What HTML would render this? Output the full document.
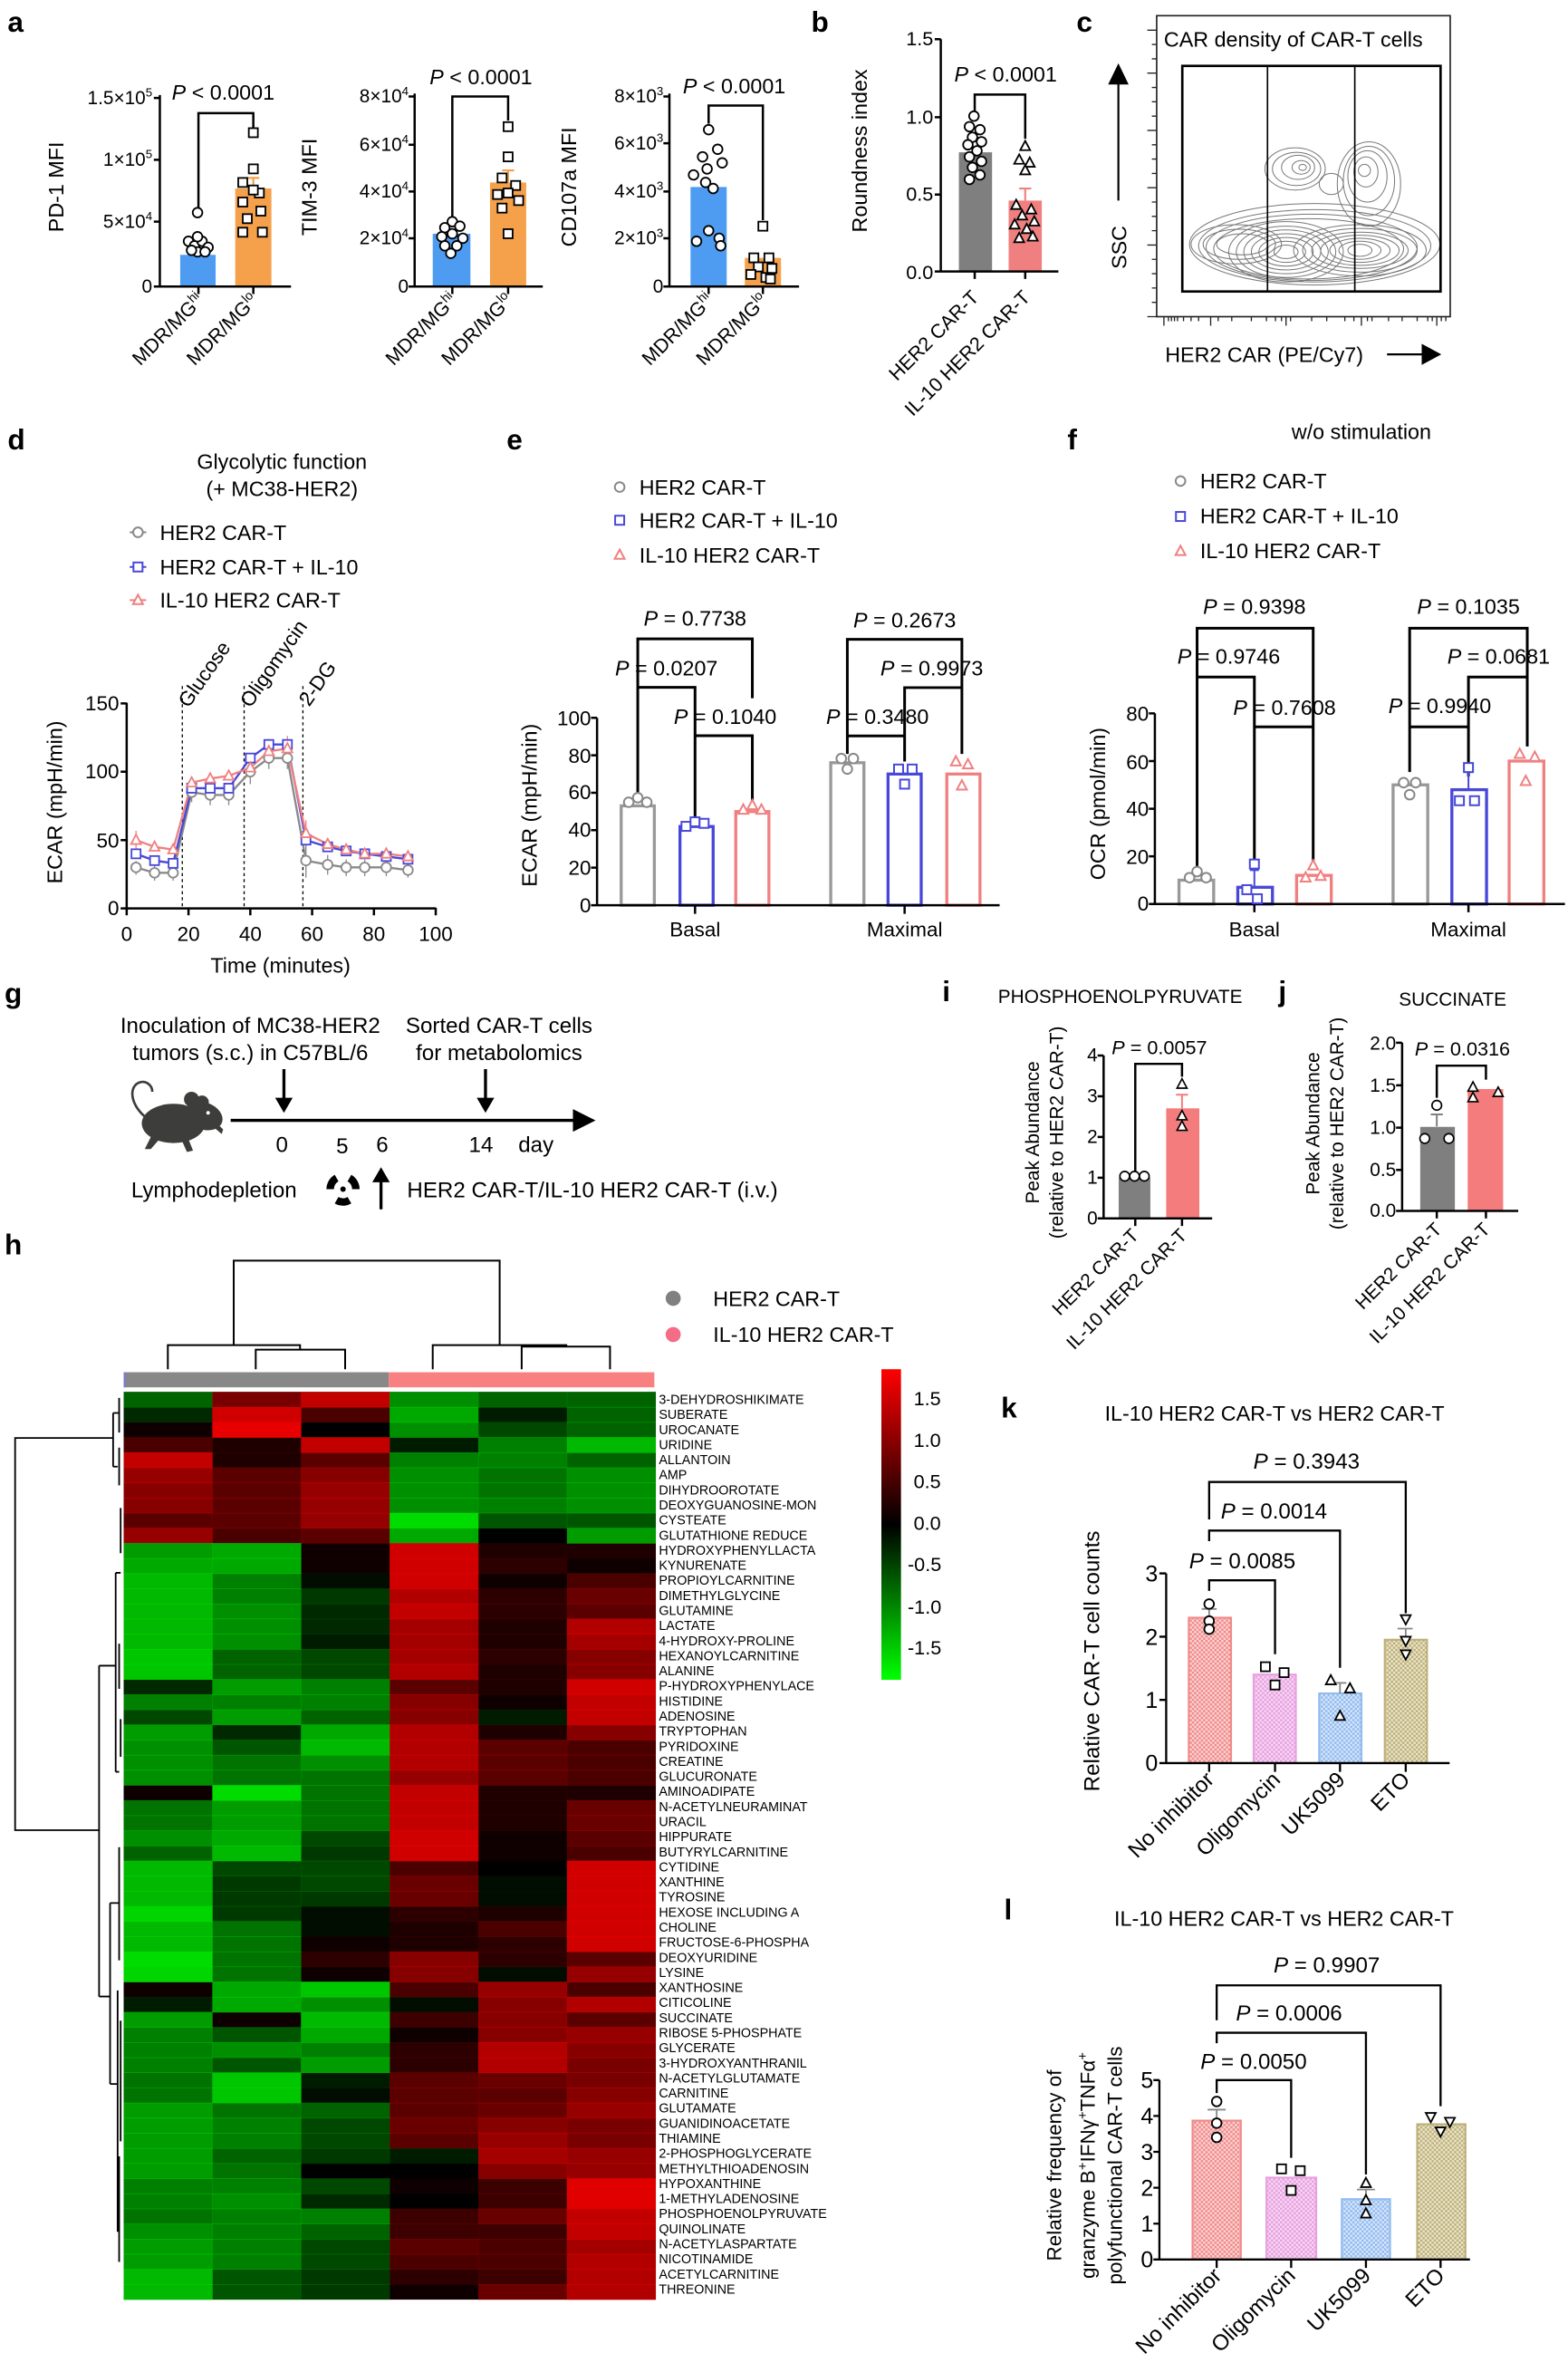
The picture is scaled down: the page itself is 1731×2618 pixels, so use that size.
<!DOCTYPE html>
<html><head><meta charset="utf-8">
<style>
html,body{margin:0;padding:0;background:#fff;}
svg{display:block;}
text{font-family:"Liberation Sans",Arial,sans-serif;fill:#000;}
.b{font-weight:bold;}
</style></head>
<body>
<svg xmlns="http://www.w3.org/2000/svg" width="1731" height="2618" viewBox="0 0 1040 1573">
<defs>
<g id="ci"><circle r="3.2"/></g>
<g id="sq"><rect x="-3" y="-3" width="6" height="6"/></g>
<g id="tu"><path d="M0,-3.6 L3.3,2.6 L-3.3,2.6Z"/></g>
<g id="td"><path d="M0,3.6 L3.3,-2.6 L-3.3,-2.6Z"/></g>
<rect id="R" width="59" height="10.4" fill="#e80000"/>
<rect id="G" width="59" height="10.4" fill="#00dc00"/>
<pattern id="pr" width="3" height="3" patternUnits="userSpaceOnUse"><rect width="3" height="3" fill="#fbd4d4"/><rect width="1.5" height="1.5" fill="#f08a8a"/><rect x="1.5" y="1.5" width="1.5" height="1.5" fill="#f08a8a"/></pattern>
<pattern id="pp" width="3" height="3" patternUnits="userSpaceOnUse"><rect width="3" height="3" fill="#f8d8f4"/><rect width="1.5" height="1.5" fill="#e7a0e0"/><rect x="1.5" y="1.5" width="1.5" height="1.5" fill="#e7a0e0"/></pattern>
<pattern id="pb" width="3" height="3" patternUnits="userSpaceOnUse"><rect width="3" height="3" fill="#d6e6fb"/><rect width="1.5" height="1.5" fill="#93bbee"/><rect x="1.5" y="1.5" width="1.5" height="1.5" fill="#93bbee"/></pattern>
<pattern id="pk" width="3" height="3" patternUnits="userSpaceOnUse"><rect width="3" height="3" fill="#ebe5cc"/><rect width="1.5" height="1.5" fill="#bdb07a"/><rect x="1.5" y="1.5" width="1.5" height="1.5" fill="#bdb07a"/></pattern>
<linearGradient id="cb" x1="0" y1="0" x2="0" y2="1"><stop offset="0" stop-color="#ff0000"/><stop offset="0.5" stop-color="#000"/><stop offset="1" stop-color="#00ff00"/></linearGradient>
</defs>

<!-- ============ panel a ============ -->
<text x="5" y="21" class="b" font-size="19">a</text>
<g font-size="12.5">
<text x="101" y="69" text-anchor="end">1.5×10<tspan font-size="8" dy="-5">5</tspan></text>
<text x="101" y="110" text-anchor="end">1×10<tspan font-size="8" dy="-5">5</tspan></text>
<text x="101" y="151" text-anchor="end">5×10<tspan font-size="8" dy="-5">4</tspan></text>
<text x="101" y="194" text-anchor="end">0</text>
<text transform="translate(42,124) rotate(-90)" text-anchor="middle" font-size="14">PD-1 MFI</text>
<text x="148" y="66" text-anchor="middle" font-size="14"><tspan font-style="italic">P</tspan> &lt; 0.0001</text>
<text x="271" y="68" text-anchor="end">8×10<tspan font-size="8" dy="-5">4</tspan></text>
<text x="271" y="100" text-anchor="end">6×10<tspan font-size="8" dy="-5">4</tspan></text>
<text x="271" y="131" text-anchor="end">4×10<tspan font-size="8" dy="-5">4</tspan></text>
<text x="271" y="162" text-anchor="end">2×10<tspan font-size="8" dy="-5">4</tspan></text>
<text x="271" y="194" text-anchor="end">0</text>
<text transform="translate(210,124) rotate(-90)" text-anchor="middle" font-size="14">TIM-3 MFI</text>
<text x="319" y="56" text-anchor="middle" font-size="14"><tspan font-style="italic">P</tspan> &lt; 0.0001</text>
<text x="440" y="68" text-anchor="end">8×10<tspan font-size="8" dy="-5">3</tspan></text>
<text x="440" y="99" text-anchor="end">6×10<tspan font-size="8" dy="-5">3</tspan></text>
<text x="440" y="131" text-anchor="end">4×10<tspan font-size="8" dy="-5">3</tspan></text>
<text x="440" y="162" text-anchor="end">2×10<tspan font-size="8" dy="-5">3</tspan></text>
<text x="440" y="194" text-anchor="end">0</text>
<text transform="translate(382,124) rotate(-90)" text-anchor="middle" font-size="14">CD107a MFI</text>
<text x="487" y="62" text-anchor="middle" font-size="14"><tspan font-style="italic">P</tspan> &lt; 0.0001</text>
</g>
<g font-size="13">
<text transform="translate(136,200) rotate(-45)" text-anchor="end">MDR/MG<tspan font-size="8.5" dy="-5">hi</tspan></text>
<text transform="translate(172,200) rotate(-45)" text-anchor="end">MDR/MG<tspan font-size="8.5" dy="-5">lo</tspan></text>
<text transform="translate(304,200) rotate(-45)" text-anchor="end">MDR/MG<tspan font-size="8.5" dy="-5">hi</tspan></text>
<text transform="translate(341,200) rotate(-45)" text-anchor="end">MDR/MG<tspan font-size="8.5" dy="-5">lo</tspan></text>
<text transform="translate(474,200) rotate(-45)" text-anchor="end">MDR/MG<tspan font-size="8.5" dy="-5">hi</tspan></text>
<text transform="translate(510,200) rotate(-45)" text-anchor="end">MDR/MG<tspan font-size="8.5" dy="-5">lo</tspan></text>
</g>
<rect x="119.5" y="169" width="23.5" height="21" fill="#4e9cf2"/>
<rect x="156" y="125" width="24" height="65" fill="#f5a04a"/>
<rect x="287" y="155" width="25" height="35" fill="#4e9cf2"/>
<rect x="325" y="121" width="24" height="69" fill="#f5a04a"/>
<rect x="458" y="124" width="24" height="66" fill="#4e9cf2"/>
<rect x="494" y="171" width="24" height="19" fill="#f5a04a"/>
<g stroke="#000" stroke-width="1.5" fill="none">
<path d="M106,63 V190 H193 M102,65 H106 M102,106 H106 M102,147 H106 M102,190 H106 M131.6,190 V195 M168,190 V195"/>
<path d="M131.6,138 V75 H168 V86"/>
<path d="M275,62 V190 H360 M271,64 H275 M271,96 H275 M271,127 H275 M271,158 H275 M271,190 H275 M300,190 V195 M337,190 V195"/>
<path d="M300,145 V64 H337 V80"/>
<path d="M444,62 V190 H530 M440,64 H444 M440,95 H444 M440,127 H444 M440,158 H444 M440,190 H444 M470,190 V195 M506,190 V195"/>
<path d="M470,82 V70 H506 V146"/>
</g>
<g stroke="#f5a04a" stroke-width="1.3"><path d="M168,125 V118 M164,118 H172 M337,121 V113 M333,113 H341"/></g>
<g fill="#fff" stroke="#000" stroke-width="1.1">
<use href="#ci" x="131" y="141"/><use href="#ci" x="125" y="160"/><use href="#ci" x="129" y="163"/><use href="#ci" x="134" y="160"/><use href="#ci" x="138" y="164"/><use href="#ci" x="131" y="167"/><use href="#ci" x="127" y="166"/><use href="#ci" x="136" y="167"/><use href="#ci" x="131" y="157"/>
<use href="#sq" x="168" y="88"/><use href="#sq" x="168" y="112"/><use href="#sq" x="161" y="121"/><use href="#sq" x="172" y="128"/><use href="#sq" x="161" y="134"/><use href="#sq" x="173" y="140"/><use href="#sq" x="164" y="145"/><use href="#sq" x="161" y="154"/><use href="#sq" x="174" y="154"/><use href="#sq" x="168" y="126"/>
<use href="#ci" x="300" y="147"/><use href="#ci" x="295" y="151"/><use href="#ci" x="305" y="150"/><use href="#ci" x="293" y="157"/><use href="#ci" x="300" y="155"/><use href="#ci" x="307" y="158"/><use href="#ci" x="295" y="163"/><use href="#ci" x="303" y="163"/><use href="#ci" x="299" y="168"/>
<use href="#sq" x="337" y="84"/><use href="#sq" x="337" y="104"/><use href="#sq" x="333" y="118"/><use href="#sq" x="342" y="123"/><use href="#sq" x="330" y="129"/><use href="#sq" x="337" y="128"/><use href="#sq" x="344" y="133"/><use href="#sq" x="333" y="138"/><use href="#sq" x="337" y="155"/>
<use href="#ci" x="470" y="86"/><use href="#ci" x="466" y="104"/><use href="#ci" x="476" y="99"/><use href="#ci" x="479" y="108"/><use href="#ci" x="469" y="112"/><use href="#ci" x="460" y="116"/><use href="#ci" x="468" y="121"/><use href="#ci" x="473" y="125"/><use href="#ci" x="462" y="160"/><use href="#ci" x="477" y="158"/><use href="#ci" x="470" y="153"/><use href="#ci" x="478" y="163"/>
<use href="#sq" x="506" y="150"/><use href="#sq" x="500" y="171"/><use href="#sq" x="510" y="171"/><use href="#sq" x="503" y="177"/><use href="#sq" x="512" y="178"/><use href="#sq" x="498" y="182"/><use href="#sq" x="508" y="184"/><use href="#sq" x="511" y="185"/>
</g>

<!-- ============ panel b ============ -->
<text x="538" y="21" class="b" font-size="19">b</text>
<g font-size="13">
<text x="619" y="30" text-anchor="end">1.5</text>
<text x="619" y="82" text-anchor="end">1.0</text>
<text x="619" y="133" text-anchor="end">0.5</text>
<text x="619" y="185" text-anchor="end">0.0</text>
<text transform="translate(575,100) rotate(-90)" text-anchor="middle" font-size="14">Roundness index</text>
<text x="667" y="54" text-anchor="middle" font-size="14"><tspan font-style="italic">P</tspan> &lt; 0.0001</text>
<text transform="translate(650,198) rotate(-45)" text-anchor="end">HER2 CAR-T</text>
<text transform="translate(684,198) rotate(-45)" text-anchor="end">IL-10 HER2 CAR-T</text>
</g>
<rect x="636" y="101" width="22" height="79" fill="#7f7f7f"/>
<rect x="669" y="133" width="22" height="47" fill="#f08080"/>
<g stroke="#000" stroke-width="1.5" fill="none">
<path d="M624,26 V180 H702 M620,26 H624 M620,77.7 H624 M620,129 H624 M620,180 H624 M646.5,180 V185 M680,180 V185"/>
<path d="M646.5,74 V62.7 H680 V92"/>
</g>
<path d="M680,133 V125 M676,125 H684" stroke="#f08080" stroke-width="1.3"/>
<g fill="#fff" stroke="#000" stroke-width="1.1">
<use href="#ci" x="646" y="77"/><use href="#ci" x="643" y="84"/><use href="#ci" x="650" y="86"/><use href="#ci" x="645" y="91"/><use href="#ci" x="651" y="94"/><use href="#ci" x="642" y="96"/><use href="#ci" x="648" y="100"/><use href="#ci" x="643" y="104"/><use href="#ci" x="651" y="107"/><use href="#ci" x="645" y="111"/><use href="#ci" x="650" y="116"/><use href="#ci" x="643" y="119"/>
<use href="#tu" x="680" y="97"/><use href="#tu" x="676" y="106"/><use href="#tu" x="683" y="108"/><use href="#tu" x="680" y="113"/><use href="#tu" x="674" y="136"/><use href="#tu" x="684" y="139"/><use href="#tu" x="678" y="143"/><use href="#tu" x="686" y="147"/><use href="#tu" x="673" y="149"/><use href="#tu" x="681" y="152"/><use href="#tu" x="676" y="158"/><use href="#tu" x="685" y="157"/>
</g>

<!-- ============ panel c ============ -->
<text x="714" y="21" class="b" font-size="19">c</text>
<rect x="767.2" y="10.4" width="194.7" height="199.6" fill="none" stroke="#222" stroke-width="1"/>
<text x="772" y="31" font-size="14">CAR density of CAR-T cells</text>
<g fill="none" stroke="#777" stroke-width="0.6">
<ellipse cx="872" cy="162" rx="83" ry="27"/><ellipse cx="872" cy="163" rx="77" ry="24"/><ellipse cx="870" cy="164" rx="70" ry="22"/><ellipse cx="868" cy="165" rx="63" ry="20"/>
<ellipse cx="820" cy="162" rx="30" ry="13"/><ellipse cx="822" cy="162" rx="24" ry="10"/><ellipse cx="824" cy="162" rx="17" ry="7"/>
<ellipse cx="853" cy="167" rx="38" ry="20"/><ellipse cx="853" cy="167" rx="33" ry="17"/><ellipse cx="853" cy="167" rx="28" ry="14.5"/><ellipse cx="853" cy="167" rx="23" ry="12"/><ellipse cx="853" cy="167" rx="18" ry="9.5"/><ellipse cx="853" cy="167" rx="13" ry="7"/><ellipse cx="853" cy="167" rx="8" ry="4.5"/>
<ellipse cx="902" cy="166" rx="44" ry="17"/><ellipse cx="902" cy="166" rx="38" ry="14.5"/><ellipse cx="902" cy="166" rx="32" ry="12"/><ellipse cx="902" cy="166" rx="26" ry="10"/><ellipse cx="902" cy="166" rx="20" ry="8"/><ellipse cx="902" cy="166" rx="14" ry="6"/><ellipse cx="902" cy="166" rx="8" ry="4"/>
<ellipse cx="859" cy="112" rx="20" ry="14"/><ellipse cx="860" cy="112" rx="16" ry="11"/><ellipse cx="861" cy="111" rx="11" ry="8"/><ellipse cx="863" cy="111" rx="6" ry="4.5"/><ellipse cx="864" cy="111" rx="2.5" ry="2"/>
<ellipse cx="908" cy="122" rx="21" ry="28"/><ellipse cx="908" cy="120" rx="17" ry="23"/><ellipse cx="907" cy="117" rx="13" ry="17"/><ellipse cx="906" cy="114" rx="8" ry="10"/><ellipse cx="905" cy="113" rx="4" ry="4"/>
<ellipse cx="883" cy="122" rx="8" ry="7"/>
</g>
<rect x="784.2" y="43.7" width="171.3" height="149.6" fill="none" stroke="#000" stroke-width="1.6"/>
<path d="M840.7,43.7 V193.3 M898.6,43.7 V193.3" stroke="#000" stroke-width="1"/>
<g stroke="#222" stroke-width="0.8">
<path d="M761,210H767 M764,200.5H767 M764,191H767 M764,181.5H767 M764,172H767 M761,162.5H767 M764,153H767 M764,143.5H767 M764,134H767 M761,124.5H767 M764,115H767 M764,105.5H767 M764,96H767 M761,86.5H767 M764,77H767 M764,67.5H767 M764,58H767 M761,48.5H767 M764,39H767 M764,29.5H767 M761,20H767"/>
<path d="M772,210V216 M775,210V213 M777,210V213 M779,210V213 M781,210V213 M785,210V213 M790,210V213 M795,210V213 M803,210V216 M808,210V213 M817,210V213 M830,210V213 M840,210V213 M846,210V213 M850,210V213 M853,210V216 M856,210V213 M870,210V213 M880,210V213 M892,210V213 M898,210V213 M903,210V216 M907,210V213 M910,210V213 M921,210V213 M930,210V213 M940,210V213 M947,210V213 M950,210V213 M953,210V216 M956,210V213 M959,210V213"/>
</g>
<path d="M741.8,133 V54" stroke="#000" stroke-width="1.3"/>
<path d="M735,56 L741.8,42 L748.6,56Z" fill="#000"/>
<text transform="translate(747,164) rotate(-90)" text-anchor="middle" font-size="14">SSC</text>
<text x="772.8" y="240" font-size="14">HER2 CAR (PE/Cy7)</text>
<path d="M920,235 H945" stroke="#000" stroke-width="1.3"/>
<path d="M943,228 L956,235 L943,242Z" fill="#000"/>

<!-- ============ panel d ============ -->
<text x="5" y="298" class="b" font-size="19">d</text>
<text x="187" y="311" text-anchor="middle" font-size="14">Glycolytic function</text>
<text x="187" y="329" text-anchor="middle" font-size="14">(+ MC38-HER2)</text>
<g font-size="14">
<text x="106" y="358">HER2 CAR-T</text>
<text x="106" y="381">HER2 CAR-T + IL-10</text>
<text x="106" y="403">IL-10 HER2 CAR-T</text>
</g>
<g fill="#fff" stroke-width="1.2">
<path d="M86,353 H97" stroke="#888"/><use href="#ci" x="91.5" y="353" stroke="#888"/>
<path d="M86,376 H97" stroke="#4848d8"/><use href="#sq" x="91.5" y="376" stroke="#4848d8"/>
<path d="M86,398 H97" stroke="#f08080"/><use href="#tu" x="91.5" y="398" stroke="#f08080"/>
</g>
<g font-size="13.5">
<text x="79" y="471" text-anchor="end">150</text>
<text x="79" y="516" text-anchor="end">100</text>
<text x="79" y="562" text-anchor="end">50</text>
<text x="79" y="607" text-anchor="end">0</text>
<text x="84" y="624" text-anchor="middle">0</text>
<text x="125" y="624" text-anchor="middle">20</text>
<text x="166" y="624" text-anchor="middle">40</text>
<text x="207" y="624" text-anchor="middle">60</text>
<text x="248" y="624" text-anchor="middle">80</text>
<text x="289" y="624" text-anchor="middle">100</text>
<text x="186" y="645" text-anchor="middle" font-size="14">Time (minutes)</text>
<text transform="translate(41,532) rotate(-90)" text-anchor="middle" font-size="14">ECAR (mpH/min)</text>
<text transform="translate(125,470) rotate(-55)" font-size="13.5">Glucose</text>
<text transform="translate(166,470) rotate(-55)" font-size="13.5">Oligomycin</text>
<text transform="translate(205,469) rotate(-55)" font-size="13.5">2-DG</text>
</g>
<g stroke="#000" stroke-width="0.8" stroke-dasharray="2,2"><path d="M120.9,455 V602 M161.9,455 V602 M200.9,455 V602"/></g>
<g stroke="#000" stroke-width="1.5" fill="none">
<path d="M84,466 V602.4 H289 M80,466.5 H84 M80,511.8 H84 M80,557.1 H84 M80,602.4 H84 M84,602 V607 M125,602 V607 M166,602 V607 M207,602 V607 M248,602 V607 M289,602 V607"/>
</g>
<g fill="none" stroke-width="1.4">
<path stroke="#8a8a8a" d="M90.2,575.2 L102.5,578.8 L114.8,578.8 L127.1,525.4 L139.4,527.2 L151.7,527.2 L166,511.8 L178.3,502.7 L190.6,502.7 L202.9,570.7 L217.3,573.4 L229.6,575.2 L241.9,575.2 L256.2,575.2 L270.6,577"/>
<path stroke="#4848d8" d="M90.2,566.2 L102.5,570.7 L114.8,572.5 L127.1,522.7 L139.4,522.7 L151.7,522.7 L166,502.7 L178.3,493.7 L190.6,493.7 L202.9,557.1 L217.3,561.6 L229.6,564.3 L241.9,566.2 L256.2,568 L270.6,569.8"/>
<path stroke="#f08080" d="M90.2,557.1 L102.5,561.6 L114.8,563.4 L127.1,519 L139.4,516.3 L151.7,514.5 L166,509.1 L178.3,498.2 L190.6,496.4 L202.9,552.6 L217.3,559.8 L229.6,563.4 L241.9,566.2 L256.2,566.2 L270.6,568"/>
<path stroke="#8a8a8a" stroke-width="0.8" d="M90.2,571V580 M102.5,574V584 M114.8,574V584 M127.1,519V532 M139.4,520V534 M151.7,520V534 M166,504V520 M178.3,496V510 M190.6,496V510 M202.9,560V582 M217.3,567V580 M229.6,570V581 M241.9,570V581 M256.2,570V581 M270.6,572V582"/>
<path stroke="#f08080" stroke-width="0.8" d="M90.2,551V563 M178.3,490V505 M190.6,488V504 M202.9,544V561"/>
</g>
<g fill="#fff" stroke-width="1.1">
<g stroke="#8a8a8a"><use href="#ci" x="90.2" y="575.2"/><use href="#ci" x="102.5" y="578.8"/><use href="#ci" x="114.8" y="578.8"/><use href="#ci" x="127.1" y="525.4"/><use href="#ci" x="139.4" y="527.2"/><use href="#ci" x="151.7" y="527.2"/><use href="#ci" x="166" y="511.8"/><use href="#ci" x="178.3" y="502.7"/><use href="#ci" x="190.6" y="502.7"/><use href="#ci" x="202.9" y="570.7"/><use href="#ci" x="217.3" y="573.4"/><use href="#ci" x="229.6" y="575.2"/><use href="#ci" x="241.9" y="575.2"/><use href="#ci" x="256.2" y="575.2"/><use href="#ci" x="270.6" y="577"/></g>
<g stroke="#4848d8"><use href="#sq" x="90.2" y="566.2"/><use href="#sq" x="102.5" y="570.7"/><use href="#sq" x="114.8" y="572.5"/><use href="#sq" x="127.1" y="522.7"/><use href="#sq" x="139.4" y="522.7"/><use href="#sq" x="151.7" y="522.7"/><use href="#sq" x="166" y="502.7"/><use href="#sq" x="178.3" y="493.7"/><use href="#sq" x="190.6" y="493.7"/><use href="#sq" x="202.9" y="557.1"/><use href="#sq" x="217.3" y="561.6"/><use href="#sq" x="229.6" y="564.3"/><use href="#sq" x="241.9" y="566.2"/><use href="#sq" x="256.2" y="568"/><use href="#sq" x="270.6" y="569.8"/></g>
<g stroke="#f08080"><use href="#tu" x="90.2" y="557.1"/><use href="#tu" x="102.5" y="561.6"/><use href="#tu" x="114.8" y="563.4"/><use href="#tu" x="127.1" y="519"/><use href="#tu" x="139.4" y="516.3"/><use href="#tu" x="151.7" y="514.5"/><use href="#tu" x="166" y="509.1"/><use href="#tu" x="178.3" y="498.2"/><use href="#tu" x="190.6" y="496.4"/><use href="#tu" x="202.9" y="552.6"/><use href="#tu" x="217.3" y="559.8"/><use href="#tu" x="229.6" y="563.4"/><use href="#tu" x="241.9" y="566.2"/><use href="#tu" x="256.2" y="566.2"/><use href="#tu" x="270.6" y="568"/></g>
</g>

<!-- ============ panel e ============ -->
<text x="336" y="298" class="b" font-size="19">e</text>
<g font-size="14">
<text x="424" y="328">HER2 CAR-T</text>
<text x="424" y="350">HER2 CAR-T + IL-10</text>
<text x="424" y="373">IL-10 HER2 CAR-T</text>
</g>
<g fill="#fff" stroke-width="1.2">
<use href="#ci" x="411" y="323" stroke="#888"/><use href="#sq" x="411" y="345" stroke="#4848d8"/><use href="#tu" x="411" y="368" stroke="#f08080"/>
</g>
<g font-size="13.5">
<text x="392" y="481" text-anchor="end">100</text>
<text x="392" y="506" text-anchor="end">80</text>
<text x="392" y="530" text-anchor="end">60</text>
<text x="392" y="555" text-anchor="end">40</text>
<text x="392" y="580" text-anchor="end">20</text>
<text x="392" y="605" text-anchor="end">0</text>
<text x="461" y="621" text-anchor="middle">Basal</text>
<text x="600" y="621" text-anchor="middle">Maximal</text>
<text transform="translate(356,534) rotate(-90)" text-anchor="middle" font-size="14">ECAR (mpH/min)</text>
</g>
<g font-size="14" text-anchor="middle">
<text x="461" y="415"><tspan font-style="italic">P</tspan> = 0.7738</text>
<text x="442" y="448"><tspan font-style="italic">P</tspan> = 0.0207</text>
<text x="481" y="480"><tspan font-style="italic">P</tspan> = 0.1040</text>
<text x="600" y="416"><tspan font-style="italic">P</tspan> = 0.2673</text>
<text x="618" y="448"><tspan font-style="italic">P</tspan> = 0.9973</text>
<text x="582" y="480"><tspan font-style="italic">P</tspan> = 0.3480</text>
</g>
<g fill="none" stroke-width="2">
<rect x="412" y="534.4" width="22" height="65.9" stroke="#999"/>
<rect x="451" y="548.1" width="22" height="52.2" stroke="#4848d8"/>
<rect x="488" y="538.2" width="22" height="62.1" stroke="#f08080"/>
<rect x="551" y="505.8" width="22" height="94.5" stroke="#999"/>
<rect x="589" y="513.3" width="22" height="87" stroke="#4848d8"/>
<rect x="628" y="513.3" width="22" height="87" stroke="#f08080"/>
</g>
<g stroke="#000" stroke-width="1.5" fill="none">
<path d="M396,476 V600.3 H663 M392,476 H396 M392,500.9 H396 M392,525.7 H396 M392,550.5 H396 M392,575.4 H396 M392,600.3 H396 M461,600 V606 M600,600 V606"/>
</g>
<g stroke="#000" stroke-width="1.8" fill="none">
<path d="M423,528 V423.7 H499 V463 M423,455.8 H461 V542 M461,487.9 H499 V533"/>
<path d="M562,500 V424 H638 V500 M600,505 V456 H638 M562,488 H600"/>
</g>
<g fill="#fff" stroke-width="1.2">
<use href="#ci" x="417" y="532" stroke="#888"/><use href="#ci" x="423" y="529" stroke="#888"/><use href="#ci" x="429" y="532" stroke="#888"/>
<use href="#sq" x="455" y="548" stroke="#4848d8"/><use href="#sq" x="461" y="545" stroke="#4848d8"/><use href="#sq" x="467" y="546" stroke="#4848d8"/>
<use href="#tu" x="493" y="537" stroke="#f08080"/><use href="#tu" x="499" y="534" stroke="#f08080"/><use href="#tu" x="505" y="537" stroke="#f08080"/>
<use href="#ci" x="558" y="503" stroke="#888"/><use href="#ci" x="566" y="503" stroke="#888"/><use href="#ci" x="562" y="510" stroke="#888"/>
<use href="#sq" x="596" y="510" stroke="#4848d8"/><use href="#sq" x="605" y="510" stroke="#4848d8"/><use href="#sq" x="600" y="520" stroke="#4848d8"/>
<use href="#tu" x="634" y="505" stroke="#f08080"/><use href="#tu" x="642" y="507" stroke="#f08080"/><use href="#tu" x="638" y="521" stroke="#f08080"/>
</g>

<!-- ============ panel f ============ -->
<text x="708" y="298" class="b" font-size="19">f</text>
<text x="903" y="291" text-anchor="middle" font-size="14">w/o stimulation</text>
<g font-size="14">
<text x="796" y="324">HER2 CAR-T</text>
<text x="796" y="347">HER2 CAR-T + IL-10</text>
<text x="796" y="370">IL-10 HER2 CAR-T</text>
</g>
<g fill="#fff" stroke-width="1.2">
<use href="#ci" x="783" y="319" stroke="#888"/><use href="#sq" x="783" y="342.5" stroke="#4848d8"/><use href="#tu" x="783" y="365.5" stroke="#f08080"/>
</g>
<g font-size="13.5">
<text x="762" y="478" text-anchor="end">80</text>
<text x="762" y="510" text-anchor="end">60</text>
<text x="762" y="541" text-anchor="end">40</text>
<text x="762" y="573" text-anchor="end">20</text>
<text x="762" y="604" text-anchor="end">0</text>
<text x="832" y="621" text-anchor="middle">Basal</text>
<text x="974" y="621" text-anchor="middle">Maximal</text>
<text transform="translate(733,533) rotate(-90)" text-anchor="middle" font-size="14">OCR (pmol/min)</text>
</g>
<g font-size="14" text-anchor="middle">
<text x="832" y="407"><tspan font-style="italic">P</tspan> = 0.9398</text>
<text x="815" y="440"><tspan font-style="italic">P</tspan> = 0.9746</text>
<text x="852" y="474"><tspan font-style="italic">P</tspan> = 0.7608</text>
<text x="974" y="407"><tspan font-style="italic">P</tspan> = 0.1035</text>
<text x="994" y="440"><tspan font-style="italic">P</tspan> = 0.0681</text>
<text x="955" y="473"><tspan font-style="italic">P</tspan> = 0.9940</text>
</g>
<g fill="none" stroke-width="2">
<rect x="782" y="583.7" width="23" height="15.8" stroke="#999"/>
<rect x="821" y="588.4" width="23" height="11.1" stroke="#4848d8"/>
<rect x="860" y="580.5" width="23" height="19" stroke="#f08080"/>
<rect x="924" y="520.5" width="23" height="79" stroke="#999"/>
<rect x="963" y="523.7" width="23" height="75.8" stroke="#4848d8"/>
<rect x="1001" y="504.7" width="23" height="94.8" stroke="#f08080"/>
</g>
<g stroke="#000" stroke-width="1.5" fill="none">
<path d="M766,473 V599.5 H1038 M762,473.1 H766 M762,504.7 H766 M762,536.3 H766 M762,567.9 H766 M762,599.5 H766 M832,599 V605 M974,599 V605"/>
</g>
<g stroke="#000" stroke-width="1.8" fill="none">
<path d="M794,575 V416.6 H871 V572 M794,449 H832 V571 M832,482 H871"/>
<path d="M935,512 V416.6 H1013 V495 M974,515 V449 H1013 M935,482 H974"/>
</g>
<g stroke-width="1.2" fill="none">
<path d="M832,588 V577 M829,577 H835 M974,524 V512 M971,512 H977" stroke="#4848d8"/>
</g>
<g fill="#fff" stroke-width="1.2">
<use href="#ci" x="789" y="582" stroke="#888"/><use href="#ci" x="794" y="578" stroke="#888"/><use href="#ci" x="800" y="582" stroke="#888"/>
<use href="#sq" x="832" y="573" stroke="#4848d8"/><use href="#sq" x="827" y="590" stroke="#4848d8"/><use href="#sq" x="834" y="596" stroke="#4848d8"/>
<use href="#tu" x="871" y="574" stroke="#f08080"/><use href="#tu" x="866" y="582" stroke="#f08080"/><use href="#tu" x="876" y="581" stroke="#f08080"/>
<use href="#ci" x="931" y="519" stroke="#888"/><use href="#ci" x="939" y="519" stroke="#888"/><use href="#ci" x="935" y="527" stroke="#888"/>
<use href="#sq" x="974" y="509" stroke="#4848d8"/><use href="#sq" x="968" y="531" stroke="#4848d8"/><use href="#sq" x="978" y="531" stroke="#4848d8"/>
<use href="#tu" x="1008" y="500" stroke="#f08080"/><use href="#tu" x="1018" y="502" stroke="#f08080"/><use href="#tu" x="1012" y="518" stroke="#f08080"/>
</g>

<!-- ============ panel g ============ -->
<text x="3" y="665" class="b" font-size="19">g</text>
<g font-size="14.5" text-anchor="middle">
<text x="166" y="685">Inoculation of MC38-HER2</text>
<text x="166" y="703">tumors (s.c.) in C57BL/6</text>
<text x="331" y="685">Sorted CAR-T cells</text>
<text x="331" y="703">for metabolomics</text>
<text x="187" y="764">0</text><text x="227" y="765">5</text><text x="253.5" y="764">6</text><text x="319" y="764">14</text><text x="355.5" y="764">day</text>
</g>
<text x="87" y="794" font-size="14.5">Lymphodepletion</text>
<text x="270" y="794" font-size="14.5">HER2 CAR-T/IL-10 HER2 CAR-T (i.v.)</text>
<g stroke="#000" stroke-width="2" fill="none"><path d="M188.3,709 V730 M322,709 V730 M153,743 H382 M252.7,802 V782"/></g>
<g fill="#000"><path d="M182.5,728 L188.3,738 L194.1,728Z M316.2,728 L322,738 L327.8,728Z M380,735.5 L395,743 L380,750.5Z M246.9,784 L252.7,774 L258.5,784Z"/></g>
<g transform="translate(227.5,788.6)" fill="#000">
<circle r="1.8"/>
<path d="M-3,-5.2 A6,6 0 0 0 -6,0 L-11,0 A11,11 0 0 1 -5.5,-9.5Z"/>
<path d="M3,-5.2 A6,6 0 0 1 6,0 L11,0 A11,11 0 0 0 5.5,-9.5Z"/>
<path d="M-3,5.2 A6,6 0 0 0 3,5.2 L5.5,9.5 A11,11 0 0 1 -5.5,9.5Z"/>
</g>
<g fill="#3d3d3b">
<ellipse cx="115" cy="745" rx="21" ry="13"/>
<ellipse cx="135" cy="740" rx="13" ry="9" transform="rotate(20 135 740)"/>
<circle cx="127" cy="729" r="5"/><circle cx="134" cy="731" r="4.5"/>
<path d="M101,752 L96,762 L100,762 L107,754Z M120,755 L124,764 L128,763 L124,753Z M140,746 L147,752 L148,749 L142,743Z"/>
</g>
<path d="M98,742 C88,735 84,722 92,718 C97,716 101,720 101,724" fill="none" stroke="#3d3d3b" stroke-width="1.6"/>
<circle cx="138" cy="738" r="1.2" fill="#fff"/>

<!-- ============ panel h ============ -->
<text x="3" y="832" class="b" font-size="19">h</text>
<g stroke="#000" stroke-width="1.2" fill="none">
<path d="M155,892 V836 H331.4 V892"/>
<path d="M111.3,908 V892 H199 V895"/>
<path d="M169.6,908 V895 H228.9 V908"/>
<path d="M287,908 V892 H375.6 V893"/>
<path d="M346,908 V893 H404.6 V908"/>
</g>
<rect x="82" y="910" width="175.8" height="10" fill="#888"/>
<rect x="257.8" y="910" width="176.2" height="10" fill="#f88080"/>
<rect x="82" y="910" width="1.2" height="10" fill="#7777dd"/>
<circle cx="446.5" cy="861" r="5" fill="#808080"/>
<circle cx="446.5" cy="885" r="5" fill="#f26d85"/>
<text x="473" y="866" font-size="14">HER2 CAR-T</text>
<text x="473" y="890" font-size="14">IL-10 HER2 CAR-T</text>

<rect x="82" y="923" width="353" height="602" fill="#000"/>
<g>
<g transform="translate(0,923)"><use href="#G" x="82" opacity=".45"/><use href="#R" x="140.8" opacity=".52"/><use href="#R" x="199.6" opacity=".84"/><use href="#G" x="258.4" opacity=".65"/><use href="#G" x="317.2" opacity=".45"/><use href="#G" x="376" opacity=".45"/></g>
<g transform="translate(0,933.03)"><use href="#G" x="82" opacity=".19"/><use href="#R" x="140.8" opacity=".9"/><use href="#R" x="199.6" opacity=".32"/><use href="#G" x="258.4" opacity=".77"/><use href="#G" x="317.2" opacity=".13"/><use href="#G" x="376" opacity=".45"/></g>
<g transform="translate(0,943.06)"><use href="#R" x="82" opacity=".06"/><use href="#R" x="140.8" opacity="1"/><use href="#G" x="258.4" opacity=".65"/><use href="#G" x="317.2" opacity=".32"/><use href="#G" x="376" opacity=".45"/></g>
<g transform="translate(0,953.09)"><use href="#R" x="82" opacity=".32"/><use href="#R" x="140.8" opacity=".13"/><use href="#R" x="199.6" opacity=".84"/><use href="#G" x="258.4" opacity=".13"/><use href="#G" x="317.2" opacity=".58"/><use href="#G" x="376" opacity=".84"/></g>
<g transform="translate(0,963.12)"><use href="#R" x="82" opacity=".84"/><use href="#R" x="140.8" opacity=".13"/><use href="#R" x="199.6" opacity=".39"/><use href="#G" x="258.4" opacity=".58"/><use href="#G" x="317.2" opacity=".58"/><use href="#G" x="376" opacity=".45"/></g>
<g transform="translate(0,973.15)"><use href="#R" x="82" opacity=".65"/><use href="#R" x="140.8" opacity=".39"/><use href="#R" x="199.6" opacity=".58"/><use href="#G" x="258.4" opacity=".65"/><use href="#G" x="317.2" opacity=".52"/><use href="#G" x="376" opacity=".65"/></g>
<g transform="translate(0,983.18)"><use href="#R" x="82" opacity=".58"/><use href="#R" x="140.8" opacity=".39"/><use href="#R" x="199.6" opacity=".65"/><use href="#G" x="258.4" opacity=".65"/><use href="#G" x="317.2" opacity=".52"/><use href="#G" x="376" opacity=".65"/></g>
<g transform="translate(0,993.21)"><use href="#R" x="82" opacity=".58"/><use href="#R" x="140.8" opacity=".39"/><use href="#R" x="199.6" opacity=".65"/><use href="#G" x="258.4" opacity=".65"/><use href="#G" x="317.2" opacity=".58"/><use href="#G" x="376" opacity=".65"/></g>
<g transform="translate(0,1003.24)"><use href="#R" x="82" opacity=".39"/><use href="#R" x="140.8" opacity=".39"/><use href="#R" x="199.6" opacity=".65"/><use href="#G" x="258.4" opacity="1"/><use href="#G" x="317.2" opacity=".39"/><use href="#G" x="376" opacity=".39"/></g>
<g transform="translate(0,1013.27)"><use href="#R" x="82" opacity=".65"/><use href="#R" x="140.8" opacity=".32"/><use href="#R" x="199.6" opacity=".39"/><use href="#G" x="258.4" opacity=".77"/><use href="#G" x="376" opacity=".71"/></g>
<g transform="translate(0,1023.3)"><use href="#G" x="82" opacity=".71"/><use href="#G" x="140.8" opacity=".77"/><use href="#R" x="199.6" opacity=".06"/><use href="#R" x="258.4" opacity=".9"/><use href="#R" x="317.2" opacity=".13"/><use href="#R" x="376" opacity=".13"/></g>
<g transform="translate(0,1033.33)"><use href="#G" x="82" opacity=".77"/><use href="#G" x="140.8" opacity=".77"/><use href="#R" x="199.6" opacity=".06"/><use href="#R" x="258.4" opacity=".9"/><use href="#R" x="317.2" opacity=".19"/><use href="#R" x="376" opacity=".06"/></g>
<g transform="translate(0,1043.36)"><use href="#G" x="82" opacity=".84"/><use href="#G" x="140.8" opacity=".58"/><use href="#G" x="199.6" opacity=".06"/><use href="#R" x="258.4" opacity=".9"/><use href="#R" x="317.2" opacity=".06"/><use href="#R" x="376" opacity=".32"/></g>
<g transform="translate(0,1053.39)"><use href="#G" x="82" opacity=".84"/><use href="#G" x="140.8" opacity=".58"/><use href="#G" x="199.6" opacity=".26"/><use href="#R" x="258.4" opacity=".77"/><use href="#R" x="317.2" opacity=".19"/><use href="#R" x="376" opacity=".45"/></g>
<g transform="translate(0,1063.42)"><use href="#G" x="82" opacity=".84"/><use href="#G" x="140.8" opacity=".65"/><use href="#G" x="199.6" opacity=".19"/><use href="#R" x="258.4" opacity=".84"/><use href="#R" x="317.2" opacity=".19"/><use href="#R" x="376" opacity=".39"/></g>
<g transform="translate(0,1073.45)"><use href="#G" x="82" opacity=".84"/><use href="#G" x="140.8" opacity=".65"/><use href="#G" x="199.6" opacity=".19"/><use href="#R" x="258.4" opacity=".71"/><use href="#R" x="317.2" opacity=".13"/><use href="#R" x="376" opacity=".77"/></g>
<g transform="translate(0,1083.48)"><use href="#G" x="82" opacity=".84"/><use href="#G" x="140.8" opacity=".65"/><use href="#G" x="199.6" opacity=".13"/><use href="#R" x="258.4" opacity=".71"/><use href="#R" x="317.2" opacity=".13"/><use href="#R" x="376" opacity=".71"/></g>
<g transform="translate(0,1093.51)"><use href="#G" x="82" opacity=".9"/><use href="#G" x="140.8" opacity=".45"/><use href="#G" x="199.6" opacity=".32"/><use href="#R" x="258.4" opacity=".71"/><use href="#R" x="317.2" opacity=".19"/><use href="#R" x="376" opacity=".58"/></g>
<g transform="translate(0,1103.54)"><use href="#G" x="82" opacity=".9"/><use href="#G" x="140.8" opacity=".45"/><use href="#G" x="199.6" opacity=".32"/><use href="#R" x="258.4" opacity=".77"/><use href="#R" x="317.2" opacity=".13"/><use href="#R" x="376" opacity=".58"/></g>
<g transform="translate(0,1113.57)"><use href="#G" x="82" opacity=".19"/><use href="#G" x="140.8" opacity=".71"/><use href="#G" x="199.6" opacity=".58"/><use href="#R" x="258.4" opacity=".39"/><use href="#R" x="317.2" opacity=".13"/><use href="#R" x="376" opacity=".9"/></g>
<g transform="translate(0,1123.6)"><use href="#G" x="82" opacity=".58"/><use href="#G" x="140.8" opacity=".58"/><use href="#G" x="199.6" opacity=".58"/><use href="#R" x="258.4" opacity=".58"/><use href="#R" x="317.2" opacity=".06"/><use href="#R" x="376" opacity=".84"/></g>
<g transform="translate(0,1133.63)"><use href="#G" x="82" opacity=".32"/><use href="#G" x="140.8" opacity=".71"/><use href="#G" x="199.6" opacity=".45"/><use href="#R" x="258.4" opacity=".58"/><use href="#G" x="317.2" opacity=".13"/><use href="#R" x="376" opacity=".84"/></g>
<g transform="translate(0,1143.66)"><use href="#G" x="82" opacity=".71"/><use href="#G" x="140.8" opacity=".19"/><use href="#G" x="199.6" opacity=".77"/><use href="#R" x="258.4" opacity=".77"/><use href="#R" x="317.2" opacity=".13"/><use href="#R" x="376" opacity=".58"/></g>
<g transform="translate(0,1153.69)"><use href="#G" x="82" opacity=".65"/><use href="#G" x="140.8" opacity=".39"/><use href="#G" x="199.6" opacity=".84"/><use href="#R" x="258.4" opacity=".77"/><use href="#R" x="317.2" opacity=".39"/><use href="#R" x="376" opacity=".32"/></g>
<g transform="translate(0,1163.72)"><use href="#G" x="82" opacity=".65"/><use href="#G" x="140.8" opacity=".52"/><use href="#G" x="199.6" opacity=".65"/><use href="#R" x="258.4" opacity=".77"/><use href="#R" x="317.2" opacity=".39"/><use href="#R" x="376" opacity=".32"/></g>
<g transform="translate(0,1173.75)"><use href="#G" x="82" opacity=".65"/><use href="#G" x="140.8" opacity=".52"/><use href="#G" x="199.6" opacity=".52"/><use href="#R" x="258.4" opacity=".65"/><use href="#R" x="317.2" opacity=".39"/><use href="#R" x="376" opacity=".32"/></g>
<g transform="translate(0,1183.78)"><use href="#R" x="82" opacity=".06"/><use href="#G" x="140.8" opacity="1"/><use href="#G" x="199.6" opacity=".52"/><use href="#R" x="258.4" opacity=".84"/><use href="#R" x="317.2" opacity=".13"/><use href="#R" x="376" opacity=".13"/></g>
<g transform="translate(0,1193.81)"><use href="#G" x="82" opacity=".52"/><use href="#G" x="140.8" opacity=".71"/><use href="#G" x="199.6" opacity=".52"/><use href="#R" x="258.4" opacity=".84"/><use href="#R" x="317.2" opacity=".13"/><use href="#R" x="376" opacity=".45"/></g>
<g transform="translate(0,1203.84)"><use href="#G" x="82" opacity=".52"/><use href="#G" x="140.8" opacity=".71"/><use href="#G" x="199.6" opacity=".52"/><use href="#R" x="258.4" opacity=".84"/><use href="#R" x="317.2" opacity=".13"/><use href="#R" x="376" opacity=".45"/></g>
<g transform="translate(0,1213.87)"><use href="#G" x="82" opacity=".65"/><use href="#G" x="140.8" opacity=".77"/><use href="#G" x="199.6" opacity=".32"/><use href="#R" x="258.4" opacity=".9"/><use href="#R" x="317.2" opacity=".06"/><use href="#R" x="376" opacity=".39"/></g>
<g transform="translate(0,1223.9)"><use href="#G" x="82" opacity=".45"/><use href="#G" x="140.8" opacity=".84"/><use href="#G" x="199.6" opacity=".26"/><use href="#R" x="258.4" opacity=".9"/><use href="#R" x="317.2" opacity=".06"/><use href="#R" x="376" opacity=".32"/></g>
<g transform="translate(0,1233.93)"><use href="#G" x="82" opacity=".84"/><use href="#G" x="140.8" opacity=".32"/><use href="#G" x="199.6" opacity=".32"/><use href="#R" x="258.4" opacity=".32"/><use href="#R" x="376" opacity=".9"/></g>
<g transform="translate(0,1243.96)"><use href="#G" x="82" opacity=".84"/><use href="#G" x="140.8" opacity=".26"/><use href="#G" x="199.6" opacity=".32"/><use href="#R" x="258.4" opacity=".45"/><use href="#G" x="317.2" opacity=".06"/><use href="#R" x="376" opacity=".9"/></g>
<g transform="translate(0,1253.99)"><use href="#G" x="82" opacity=".84"/><use href="#G" x="140.8" opacity=".26"/><use href="#G" x="199.6" opacity=".26"/><use href="#R" x="258.4" opacity=".45"/><use href="#G" x="317.2" opacity=".06"/><use href="#R" x="376" opacity=".9"/></g>
<g transform="translate(0,1264.02)"><use href="#G" x="82" opacity=".97"/><use href="#G" x="140.8" opacity=".26"/><use href="#G" x="199.6" opacity=".06"/><use href="#R" x="258.4" opacity=".19"/><use href="#R" x="317.2" opacity=".13"/><use href="#R" x="376" opacity=".9"/></g>
<g transform="translate(0,1274.05)"><use href="#G" x="82" opacity=".84"/><use href="#G" x="140.8" opacity=".52"/><use href="#G" x="199.6" opacity=".06"/><use href="#R" x="258.4" opacity=".13"/><use href="#R" x="317.2" opacity=".32"/><use href="#R" x="376" opacity=".9"/></g>
<g transform="translate(0,1284.08)"><use href="#G" x="82" opacity=".84"/><use href="#G" x="140.8" opacity=".52"/><use href="#R" x="199.6" opacity=".06"/><use href="#R" x="258.4" opacity=".13"/><use href="#R" x="317.2" opacity=".19"/><use href="#R" x="376" opacity=".9"/></g>
<g transform="translate(0,1294.11)"><use href="#G" x="82" opacity="1"/><use href="#G" x="140.8" opacity=".52"/><use href="#R" x="199.6" opacity=".19"/><use href="#R" x="258.4" opacity=".58"/><use href="#R" x="317.2" opacity=".19"/><use href="#R" x="376" opacity=".39"/></g>
<g transform="translate(0,1304.14)"><use href="#G" x="82" opacity=".97"/><use href="#G" x="140.8" opacity=".52"/><use href="#R" x="199.6" opacity=".06"/><use href="#R" x="258.4" opacity=".58"/><use href="#G" x="317.2" opacity=".06"/><use href="#R" x="376" opacity=".65"/></g>
<g transform="translate(0,1314.17)"><use href="#R" x="82" opacity=".06"/><use href="#G" x="140.8" opacity=".77"/><use href="#G" x="199.6" opacity=".9"/><use href="#R" x="258.4" opacity=".32"/><use href="#R" x="317.2" opacity=".65"/><use href="#R" x="376" opacity=".32"/></g>
<g transform="translate(0,1324.2)"><use href="#G" x="82" opacity=".13"/><use href="#G" x="140.8" opacity=".77"/><use href="#G" x="199.6" opacity=".65"/><use href="#G" x="258.4" opacity=".06"/><use href="#R" x="317.2" opacity=".58"/><use href="#R" x="376" opacity=".77"/></g>
<g transform="translate(0,1334.23)"><use href="#G" x="82" opacity=".71"/><use href="#R" x="140.8" opacity=".06"/><use href="#G" x="199.6" opacity=".84"/><use href="#R" x="258.4" opacity=".26"/><use href="#R" x="317.2" opacity=".58"/><use href="#R" x="376" opacity=".39"/></g>
<g transform="translate(0,1344.26)"><use href="#G" x="82" opacity=".58"/><use href="#G" x="140.8" opacity=".39"/><use href="#G" x="199.6" opacity=".77"/><use href="#R" x="258.4" opacity=".06"/><use href="#R" x="317.2" opacity=".58"/><use href="#R" x="376" opacity=".65"/></g>
<g transform="translate(0,1354.29)"><use href="#G" x="82" opacity=".58"/><use href="#G" x="140.8" opacity=".65"/><use href="#G" x="199.6" opacity=".58"/><use href="#R" x="258.4" opacity=".19"/><use href="#R" x="317.2" opacity=".77"/><use href="#R" x="376" opacity=".58"/></g>
<g transform="translate(0,1364.32)"><use href="#G" x="82" opacity=".58"/><use href="#G" x="140.8" opacity=".39"/><use href="#G" x="199.6" opacity=".71"/><use href="#R" x="258.4" opacity=".19"/><use href="#R" x="317.2" opacity=".77"/><use href="#R" x="376" opacity=".52"/></g>
<g transform="translate(0,1374.35)"><use href="#G" x="82" opacity=".52"/><use href="#G" x="140.8" opacity=".9"/><use href="#G" x="199.6" opacity=".13"/><use href="#R" x="258.4" opacity=".39"/><use href="#R" x="317.2" opacity=".45"/><use href="#R" x="376" opacity=".52"/></g>
<g transform="translate(0,1384.38)"><use href="#G" x="82" opacity=".52"/><use href="#G" x="140.8" opacity=".9"/><use href="#G" x="199.6" opacity=".06"/><use href="#R" x="258.4" opacity=".39"/><use href="#R" x="317.2" opacity=".39"/><use href="#R" x="376" opacity=".58"/></g>
<g transform="translate(0,1394.41)"><use href="#G" x="82" opacity=".71"/><use href="#G" x="140.8" opacity=".52"/><use href="#G" x="199.6" opacity=".45"/><use href="#R" x="258.4" opacity=".39"/><use href="#R" x="317.2" opacity=".45"/><use href="#R" x="376" opacity=".65"/></g>
<g transform="translate(0,1404.44)"><use href="#G" x="82" opacity=".71"/><use href="#G" x="140.8" opacity=".58"/><use href="#G" x="199.6" opacity=".32"/><use href="#R" x="258.4" opacity=".45"/><use href="#R" x="317.2" opacity=".58"/><use href="#R" x="376" opacity=".52"/></g>
<g transform="translate(0,1414.47)"><use href="#G" x="82" opacity=".71"/><use href="#G" x="140.8" opacity=".58"/><use href="#G" x="199.6" opacity=".32"/><use href="#R" x="258.4" opacity=".39"/><use href="#R" x="317.2" opacity=".65"/><use href="#R" x="376" opacity=".52"/></g>
<g transform="translate(0,1424.5)"><use href="#G" x="82" opacity=".71"/><use href="#G" x="140.8" opacity=".45"/><use href="#G" x="199.6" opacity=".26"/><use href="#G" x="258.4" opacity=".13"/><use href="#R" x="317.2" opacity=".71"/><use href="#R" x="376" opacity=".65"/></g>
<g transform="translate(0,1434.53)"><use href="#G" x="82" opacity=".71"/><use href="#G" x="140.8" opacity=".52"/><use href="#R" x="317.2" opacity=".58"/><use href="#R" x="376" opacity=".65"/></g>
<g transform="translate(0,1444.56)"><use href="#G" x="82" opacity=".58"/><use href="#G" x="140.8" opacity=".58"/><use href="#G" x="199.6" opacity=".32"/><use href="#R" x="258.4" opacity=".06"/><use href="#R" x="317.2" opacity=".26"/><use href="#R" x="376" opacity=".97"/></g>
<g transform="translate(0,1454.59)"><use href="#G" x="82" opacity=".58"/><use href="#G" x="140.8" opacity=".65"/><use href="#G" x="199.6" opacity=".19"/><use href="#R" x="317.2" opacity=".26"/><use href="#R" x="376" opacity=".97"/></g>
<g transform="translate(0,1464.62)"><use href="#G" x="82" opacity=".52"/><use href="#G" x="140.8" opacity=".58"/><use href="#G" x="199.6" opacity=".58"/><use href="#R" x="258.4" opacity=".26"/><use href="#R" x="317.2" opacity=".45"/><use href="#R" x="376" opacity=".84"/></g>
<g transform="translate(0,1474.65)"><use href="#G" x="82" opacity=".65"/><use href="#G" x="140.8" opacity=".58"/><use href="#G" x="199.6" opacity=".45"/><use href="#R" x="258.4" opacity=".26"/><use href="#R" x="317.2" opacity=".26"/><use href="#R" x="376" opacity=".84"/></g>
<g transform="translate(0,1484.68)"><use href="#G" x="82" opacity=".71"/><use href="#G" x="140.8" opacity=".58"/><use href="#G" x="199.6" opacity=".32"/><use href="#R" x="258.4" opacity=".39"/><use href="#R" x="317.2" opacity=".32"/><use href="#R" x="376" opacity=".71"/></g>
<g transform="translate(0,1494.71)"><use href="#G" x="82" opacity=".71"/><use href="#G" x="140.8" opacity=".58"/><use href="#G" x="199.6" opacity=".32"/><use href="#R" x="258.4" opacity=".32"/><use href="#R" x="317.2" opacity=".32"/><use href="#R" x="376" opacity=".77"/></g>
<g transform="translate(0,1504.74)"><use href="#G" x="82" opacity=".84"/><use href="#G" x="140.8" opacity=".39"/><use href="#G" x="199.6" opacity=".26"/><use href="#R" x="258.4" opacity=".19"/><use href="#R" x="317.2" opacity=".26"/><use href="#R" x="376" opacity=".77"/></g>
<g transform="translate(0,1514.77)"><use href="#G" x="82" opacity=".84"/><use href="#G" x="140.8" opacity=".39"/><use href="#G" x="199.6" opacity=".26"/><use href="#R" x="258.4" opacity=".06"/><use href="#R" x="317.2" opacity=".45"/><use href="#R" x="376" opacity=".77"/></g>
</g>
<g stroke="#000" stroke-width="1.1" fill="none">
<path d="M75,937 V953.6 H10 V1213.7 H65.7 M75,953.6 V972.6 M75,937 H79 M75,972.6 H78"/>
<path d="M65.7,1104.6 V1324 M65.7,1104.6 H76.7 M65.7,1324 H73 M76.7,1043 V1175 M76.7,1043 H80 M76.7,1175 H79 M73,1262 V1382 M73,1262 H79 M73,1382 H78"/>
<path d="M79,927 V950 M79,960 V985 M80,1000 V1030 M79,1090 V1120 M80,1140 V1165 M79,1225 V1300 M80,1340 V1420 M79,1430 V1500 M78,1320 V1480"/>
</g>
<g font-size="8.6">
<text x="437" y="931">3-DEHYDROSHIKIMATE</text>
<text x="437" y="941">SUBERATE</text>
<text x="437" y="951">UROCANATE</text>
<text x="437" y="961">URIDINE</text>
<text x="437" y="971">ALLANTOIN</text>
<text x="437" y="981">AMP</text>
<text x="437" y="991">DIHYDROOROTATE</text>
<text x="437" y="1001">DEOXYGUANOSINE-MON</text>
<text x="437" y="1011">CYSTEATE</text>
<text x="437" y="1021">GLUTATHIONE REDUCE</text>
<text x="437" y="1031">HYDROXYPHENYLLACTA</text>
<text x="437" y="1041">KYNURENATE</text>
<text x="437" y="1051">PROPIOYLCARNITINE</text>
<text x="437" y="1061">DIMETHYLGLYCINE</text>
<text x="437" y="1071">GLUTAMINE</text>
<text x="437" y="1081">LACTATE</text>
<text x="437" y="1091">4-HYDROXY-PROLINE</text>
<text x="437" y="1101">HEXANOYLCARNITINE</text>
<text x="437" y="1111">ALANINE</text>
<text x="437" y="1121">P-HYDROXYPHENYLACE</text>
<text x="437" y="1131">HISTIDINE</text>
<text x="437" y="1141">ADENOSINE</text>
<text x="437" y="1151">TRYPTOPHAN</text>
<text x="437" y="1161">PYRIDOXINE</text>
<text x="437" y="1171">CREATINE</text>
<text x="437" y="1181">GLUCURONATE</text>
<text x="437" y="1191">AMINOADIPATE</text>
<text x="437" y="1201">N-ACETYLNEURAMINAT</text>
<text x="437" y="1211">URACIL</text>
<text x="437" y="1221">HIPPURATE</text>
<text x="437" y="1231">BUTYRYLCARNITINE</text>
<text x="437" y="1241">CYTIDINE</text>
<text x="437" y="1251">XANTHINE</text>
<text x="437" y="1261">TYROSINE</text>
<text x="437" y="1271">HEXOSE INCLUDING A</text>
<text x="437" y="1281">CHOLINE</text>
<text x="437" y="1291">FRUCTOSE-6-PHOSPHA</text>
<text x="437" y="1301">DEOXYURIDINE</text>
<text x="437" y="1311">LYSINE</text>
<text x="437" y="1321">XANTHOSINE</text>
<text x="437" y="1331">CITICOLINE</text>
<text x="437" y="1341">SUCCINATE</text>
<text x="437" y="1351">RIBOSE 5-PHOSPHATE</text>
<text x="437" y="1361">GLYCERATE</text>
<text x="437" y="1371">3-HYDROXYANTHRANIL</text>
<text x="437" y="1381">N-ACETYLGLUTAMATE</text>
<text x="437" y="1391">CARNITINE</text>
<text x="437" y="1401">GLUTAMATE</text>
<text x="437" y="1411">GUANIDINOACETATE</text>
<text x="437" y="1421">THIAMINE</text>
<text x="437" y="1431">2-PHOSPHOGLYCERATE</text>
<text x="437" y="1441">METHYLTHIOADENOSIN</text>
<text x="437" y="1451">HYPOXANTHINE</text>
<text x="437" y="1461">1-METHYLADENOSINE</text>
<text x="437" y="1471">PHOSPHOENOLPYRUVATE</text>
<text x="437" y="1481">QUINOLINATE</text>
<text x="437" y="1491">N-ACETYLASPARTATE</text>
<text x="437" y="1501">NICOTINAMIDE</text>
<text x="437" y="1511">ACETYLCARNITINE</text>
<text x="437" y="1521">THREONINE</text>
</g>
<rect x="584.6" y="908" width="13" height="206" fill="url(#cb)"/>
<g font-size="13">
<text x="606" y="932">1.5</text><text x="606" y="959.5">1.0</text><text x="606" y="987">0.5</text><text x="606" y="1014.5">0.0</text>
<text x="602" y="1042">-0.5</text><text x="602" y="1070">-1.0</text><text x="602" y="1097">-1.5</text>
</g>

<!-- ============ panel i ============ -->
<text x="625" y="664" class="b" font-size="19">i</text>
<text x="743" y="665" text-anchor="middle" font-size="12.5">PHOSPHOENOLPYRUVATE</text>
<g font-size="12.5">
<text x="728" y="704" text-anchor="end">4</text><text x="728" y="731" text-anchor="end">3</text><text x="728" y="758" text-anchor="end">2</text><text x="728" y="785" text-anchor="end">1</text><text x="728" y="812" text-anchor="end">0</text>
<text transform="translate(689,751) rotate(-90)" text-anchor="middle">Peak Abundance</text>
<text transform="translate(705,751) rotate(-90)" text-anchor="middle">(relative to HER2 CAR-T)</text>
<text x="769" y="699" text-anchor="middle" font-size="13"><tspan font-style="italic">P</tspan> = 0.0057</text>
<text transform="translate(756,820) rotate(-45)" text-anchor="end">HER2 CAR-T</text>
<text transform="translate(788,820) rotate(-45)" text-anchor="end">IL-10 HER2 CAR-T</text>
</g>
<rect x="742" y="781" width="21" height="27" fill="#7f7f7f"/>
<rect x="773.5" y="735" width="22" height="73" fill="#f47c7c"/>
<path d="M784,735 V726 M780,726 H788" stroke="#f47c7c" stroke-width="1.2"/>
<g stroke="#000" stroke-width="1.5" fill="none">
<path d="M732,700 V808 H804 M728,700 H732 M728,727 H732 M728,754 H732 M728,781 H732 M728,808 H732 M753,808 V813 M784,808 V813"/>
<path d="M753,778 V705.5 H784 V714"/>
</g>
<g fill="#fff" stroke="#000" stroke-width="1">
<use href="#ci" x="746" y="780"/><use href="#ci" x="752.5" y="780"/><use href="#ci" x="759" y="780"/>
<use href="#tu" x="784" y="719"/><use href="#tu" x="784" y="740"/><use href="#tu" x="784" y="747"/>
</g>

<!-- ============ panel j ============ -->
<text x="848" y="664" class="b" font-size="19">j</text>
<text x="963.5" y="667" text-anchor="middle" font-size="12.5">SUCCINATE</text>
<g font-size="12.5">
<text x="926" y="696" text-anchor="end">2.0</text><text x="926" y="724" text-anchor="end">1.5</text><text x="926" y="752" text-anchor="end">1.0</text><text x="926" y="780" text-anchor="end">0.5</text><text x="926" y="807" text-anchor="end">0.0</text>
<text transform="translate(875,745) rotate(-90)" text-anchor="middle">Peak Abundance</text>
<text transform="translate(891,745) rotate(-90)" text-anchor="middle">(relative to HER2 CAR-T)</text>
<text x="970" y="700" text-anchor="middle" font-size="13"><tspan font-style="italic">P</tspan> = 0.0316</text>
<text transform="translate(957,816) rotate(-45)" text-anchor="end">HER2 CAR-T</text>
<text transform="translate(989,816) rotate(-45)" text-anchor="end">IL-10 HER2 CAR-T</text>
</g>
<rect x="942" y="747.3" width="23" height="55.7" fill="#7f7f7f"/>
<rect x="973.5" y="722.2" width="23.5" height="80.8" fill="#f47c7c"/>
<g stroke="#000" stroke-width="1.5" fill="none">
<path d="M930,691.5 V803 H1007 M926,691.5 H930 M926,719.7 H930 M926,747.8 H930 M926,775.8 H930 M926,803 H930 M953,803 V808 M985.6,803 V808"/>
<path d="M953,728 V706.7 H985.6 V716"/>
<path d="M953,747 V739 M949,739 H957" stroke-width="1.2" stroke="#7f7f7f"/>
</g>
<g fill="#fff" stroke="#000" stroke-width="1">
<use href="#ci" x="953" y="733"/><use href="#ci" x="945" y="755"/><use href="#ci" x="961" y="755"/>
<use href="#tu" x="977" y="721"/><use href="#tu" x="977" y="728"/><use href="#tu" x="993.7" y="724.5"/>
</g>

<!-- ============ panel k ============ -->
<text x="664" y="940" class="b" font-size="19">k</text>
<text x="845.4" y="942" text-anchor="middle" font-size="14">IL-10 HER2 CAR-T vs HER2 CAR-T</text>
<g font-size="15">
<text x="768" y="1174.5" text-anchor="end">0</text><text x="768" y="1132.6" text-anchor="end">1</text><text x="768" y="1090.7" text-anchor="end">2</text><text x="768" y="1048.7" text-anchor="end">3</text>
</g>
<text transform="translate(729,1101.6) rotate(-90)" text-anchor="middle" font-size="14.5">Relative CAR-T cell counts</text>
<g font-size="14.5" text-anchor="middle">
<text x="866.6" y="974"><tspan font-style="italic">P</tspan> = 0.3943</text>
<text x="845" y="1007"><tspan font-style="italic">P</tspan> = 0.0014</text>
<text x="824" y="1040"><tspan font-style="italic">P</tspan> = 0.0085</text>
</g>
<g font-size="14.5" text-anchor="end">
<text transform="translate(806,1181) rotate(-45)">No inhibitor</text>
<text transform="translate(850,1181) rotate(-45)">Oligomycin</text>
<text transform="translate(893,1181) rotate(-45)">UK5099</text>
<text transform="translate(936,1181) rotate(-45)">ETO</text>
</g>
<g stroke-width="1.3">
<rect x="788.5" y="1072.8" width="28" height="96.4" fill="url(#pr)" stroke="#f08a8a"/>
<rect x="831.5" y="1110.5" width="28" height="58.7" fill="url(#pp)" stroke="#e7a0e0"/>
<rect x="875" y="1123" width="28" height="46.2" fill="url(#pb)" stroke="#93bbee"/>
<rect x="918.5" y="1087.4" width="28" height="81.8" fill="url(#pk)" stroke="#bdb07a"/>
</g>
<path d="M802,1072.8 V1067 M797,1067 H807 M888.8,1123 V1116 M884,1116 H893 M932.4,1087.4 V1080 M927,1080 H937" stroke-width="1.1" stroke="#888"/>
<g stroke="#000" stroke-width="1.4" fill="none">
<path d="M773.5,1043.4 V1169.2 H961.5 M769,1043.4 H773.5 M769,1085.4 H773.5 M769,1127.3 H773.5 M769,1169.2 H773.5 M802,1169 V1175 M845.7,1169 V1175 M888.8,1169 V1175 M932.4,1169 V1175"/>
<path d="M802,1007.6 V982.8 H932.4 V1069.8 M802,1022 V1015 H888.8 V1106 M802,1055 V1048 H845.7 V1097"/>
</g>
<g fill="#fff" stroke="#000" stroke-width="1.1">
<use href="#ci" x="802" y="1063.7"/><use href="#ci" x="802" y="1075"/><use href="#ci" x="802" y="1080.4"/>
<use href="#sq" x="839.3" y="1105.3"/><use href="#sq" x="851.7" y="1109.2"/><use href="#sq" x="845.7" y="1117.4"/>
<use href="#tu" x="882.7" y="1114.4"/><use href="#tu" x="895.4" y="1119.8"/><use href="#tu" x="888.8" y="1138"/>
<use href="#td" x="932.4" y="1073.7"/><use href="#td" x="932.4" y="1088"/><use href="#td" x="932.4" y="1097"/>
</g>

<!-- ============ panel l ============ -->
<text x="666" y="1273" class="b" font-size="19">l</text>
<text x="851.7" y="1277" text-anchor="middle" font-size="14">IL-10 HER2 CAR-T vs HER2 CAR-T</text>
<g font-size="15">
<text x="765" y="1503.7" text-anchor="end">0</text><text x="765" y="1479.9" text-anchor="end">1</text><text x="765" y="1456.1" text-anchor="end">2</text><text x="765" y="1432.3" text-anchor="end">3</text><text x="765" y="1408.5" text-anchor="end">4</text><text x="765" y="1384.7" text-anchor="end">5</text>
</g>
<g font-size="13.5" text-anchor="middle">
<text transform="translate(704,1436) rotate(-90)">Relative frequency of</text>
<text transform="translate(726,1436) rotate(-90)">granzyme B<tspan font-size="9" dy="-5">+</tspan><tspan dy="5">IFNγ</tspan><tspan font-size="9" dy="-5">+</tspan><tspan dy="5">TNFα</tspan><tspan font-size="9" dy="-5">+</tspan></text>
<text transform="translate(744,1436) rotate(-90)">polyfunctional CAR-T cells</text>
</g>
<g font-size="14.5" text-anchor="middle">
<text x="880" y="1308"><tspan font-style="italic">P</tspan> = 0.9907</text>
<text x="855" y="1340"><tspan font-style="italic">P</tspan> = 0.0006</text>
<text x="831.5" y="1372"><tspan font-style="italic">P</tspan> = 0.0050</text>
</g>
<g font-size="14.5" text-anchor="end">
<text transform="translate(811,1510) rotate(-45)">No inhibitor</text>
<text transform="translate(860,1510) rotate(-45)">Oligomycin</text>
<text transform="translate(910,1510) rotate(-45)">UK5099</text>
<text transform="translate(959,1510) rotate(-45)">ETO</text>
</g>
<g stroke-width="1.3">
<rect x="791" y="1406.3" width="32" height="92.1" fill="url(#pr)" stroke="#f08a8a"/>
<rect x="840" y="1444.1" width="33" height="54.3" fill="url(#pp)" stroke="#e7a0e0"/>
<rect x="890" y="1458.4" width="32" height="40" fill="url(#pb)" stroke="#93bbee"/>
<rect x="940" y="1408.7" width="32" height="89.7" fill="url(#pk)" stroke="#bdb07a"/>
</g>
<path d="M807,1406 V1399 M801,1399 H813 M906,1458 V1452 M900,1452 H912" stroke-width="1.1" stroke="#888"/>
<g stroke="#000" stroke-width="1.4" fill="none">
<path d="M769,1379.4 V1498.4 H975 M765,1379.4 H769 M765,1403.2 H769 M765,1427 H769 M765,1450.8 H769 M765,1474.6 H769 M765,1498.4 H769 M807,1498 V1504 M856.4,1498 V1504 M906,1498 V1504 M955.5,1498 V1504"/>
<path d="M807,1339.7 V1316.6 H955.5 V1396.7 M807,1355 V1348 H906 V1442 M807,1388 V1379.4 H856.4 V1431"/>
</g>
<g fill="#fff" stroke="#000" stroke-width="1.1">
<use href="#ci" x="807" y="1393.6"/><use href="#ci" x="807" y="1408"/><use href="#ci" x="807" y="1417.4"/>
<use href="#sq" x="850" y="1438.3"/><use href="#sq" x="862.4" y="1439.5"/><use href="#sq" x="856.4" y="1452.6"/>
<use href="#tu" x="906" y="1447.8"/><use href="#tu" x="906" y="1459.2"/><use href="#tu" x="906" y="1468"/>
<use href="#td" x="949" y="1403.8"/><use href="#td" x="961.7" y="1407"/><use href="#td" x="955.5" y="1413.4"/>
</g>
</svg>
</body></html>
